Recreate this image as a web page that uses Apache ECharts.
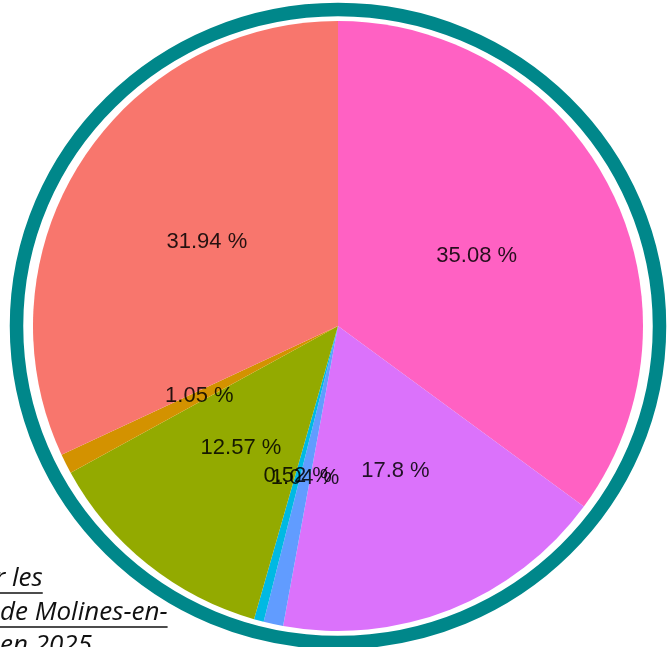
<!DOCTYPE html>
<html>
<head>
<meta charset="utf-8">
<script src="https://cdn.jsdelivr.net/npm/echarts@6/dist/echarts.min.js"></script>
<style>
html,body{margin:0;padding:0;background:#fff;}
#chart{width:667px;height:647px;}
</style>
</head>
<body>
<div id="chart"></div>
<script>
// Slices in clockwise order starting at 12 o'clock
const categories = ['Catégorie 9', 'Catégorie 8', 'Catégorie 7', 'Catégorie 6', 'Catégorie 3', 'Catégorie 2', 'Catégorie 1'];
const values = [35.08, 17.8, 1.04, 0.52, 12.57, 1.05, 31.94];
const colors = ['#FF61C3', '#DB72FB', '#619CFF', '#00B9E3', '#93AA00', '#D39200', '#F8766D'];
const captionLines = ['r les', 'de Molines-en-', 'en 2025'];

const chart = echarts.init(document.getElementById('chart'), null, {renderer: 'canvas'});
const cx = 338, cy = 326;
const captionFont = 'italic 26px "Open Sans"';
const captionY = [566, 600, 633];
const captionX = [-5, 0, 0];

const graphics = [
  {
    type: 'ellipse',
    shape: {cx: cx, cy: cy, rx: 321.5, ry: 316.5},
    style: {fill: null, stroke: '#00878A', lineWidth: 13.5},
    z: 10
  }
];
captionLines.forEach(function (t, i) {
  graphics.push({
    type: 'text',
    x: captionX[i], y: captionY[i],
    style: {text: t, font: captionFont, fill: '#111', align: 'left', verticalAlign: 'top'},
    z: 5
  });
});
const ctx = document.createElement('canvas').getContext('2d');
ctx.font = captionFont;
captionLines.forEach(function (t, i) {
  const w = ctx.measureText(t).width;
  graphics.push({
    type: 'line',
    shape: {x1: 0, y1: captionY[i] + 27, x2: captionX[i] + w, y2: captionY[i] + 27},
    style: {stroke: '#111', lineWidth: 1.5},
    z: 5
  });
});

chart.setOption({
  animation: false,
  backgroundColor: '#ffffff',
  series: [{
    type: 'pie',
    center: [cx, cy],
    radius: [0, 305],
    startAngle: 90,
    clockwise: true,
    avoidLabelOverlap: false,
    labelLayout: {hideOverlap: false},
    data: categories.map(function (c, i) {
      return {name: c, value: values[i], itemStyle: {color: colors[i]}};
    }),
    itemStyle: {borderWidth: 0},
    label: {
      show: true,
      position: 'inside',
      formatter: function (p) { return p.value + ' %'; },
      color: 'rgba(0,0,0,0.85)',
      fontFamily: 'Liberation Sans',
      fontSize: 22
    },
    labelLine: {show: false},
    emphasis: {disabled: true}
  }],
  graphic: graphics
});
</script>
</body>
</html>
